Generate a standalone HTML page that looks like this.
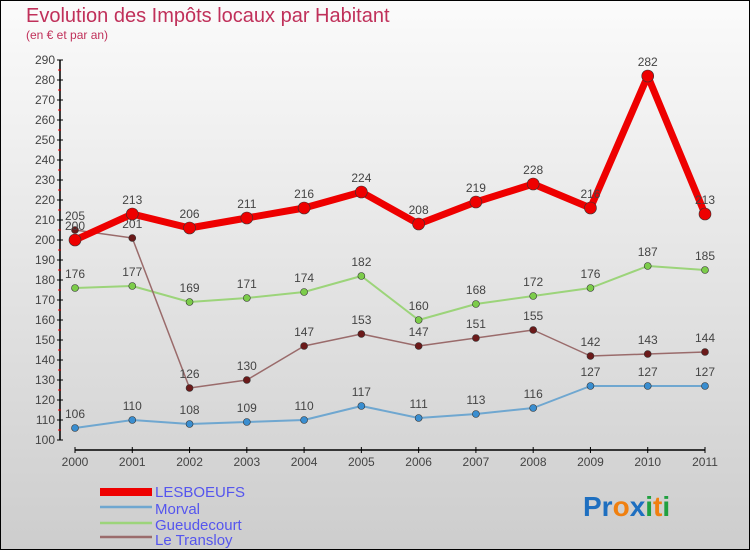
<!DOCTYPE html>
<html><head><meta charset="utf-8"><style>
body{margin:0}
#c{width:750px;height:550px;position:relative;font-family:"Liberation Sans",sans-serif}
svg text{font-family:"Liberation Sans",sans-serif}
</style></head><body>
<div id="c">
<svg id="s" width="750" height="550" xmlns="http://www.w3.org/2000/svg">
<defs><linearGradient id="bg" x1="0" y1="0" x2="0" y2="1"><stop offset="0" stop-color="#fbfbfb"/><stop offset="1" stop-color="#cdcdcd"/></linearGradient></defs>
<rect x="0.5" y="0.5" width="749" height="549" fill="url(#bg)" stroke="#000"/>
<text x="26" y="22" font-size="20" fill="#c0305a">Evolution des Impôts locaux par Habitant</text>
<text x="26" y="39" font-size="12" fill="#c0305a">(en € et par an)</text>
<g id="axes"></g><g id="series"></g>
<g>
<rect x="100" y="488" width="52" height="8" fill="#e00"/>
<text x="155" y="497" font-size="15" fill="#5555ee">LESBOEUFS</text>
<line x1="100" y1="507" x2="152" y2="507" stroke="#6fa7d0" stroke-width="2.5"/>
<text x="155" y="514" font-size="15" fill="#5555ee">Morval</text>
<line x1="100" y1="523" x2="152" y2="523" stroke="#9cd47a" stroke-width="2.5"/>
<text x="155" y="530" font-size="15" fill="#5555ee">Gueudecourt</text>
<line x1="100" y1="537" x2="152" y2="537" stroke="#9a6b6b" stroke-width="2.5"/>
<text x="155" y="545" font-size="15" fill="#5555ee">Le Transloy</text>
</g>
<text x="583" y="516" font-size="28" font-weight="bold"><tspan fill="#1e6fc0">Pr</tspan><tspan fill="#f08010">o</tspan><tspan fill="#1e6fc0">x</tspan><tspan fill="#20a040">i</tspan><tspan fill="#f08010">t</tspan><tspan fill="#20a040">i</tspan></text>
</svg></div>
<script>
const years=["2000","2001","2002","2003","2004","2005","2006","2007","2008","2009","2010","2011"];
const yTicks=[100,110,120,130,140,150,160,170,180,190,200,210,220,230,240,250,260,270,280,290];
const lesboeufs=[200,213,206,211,216,224,208,219,228,216,282,213];
const morval=[106,110,108,109,110,117,111,113,116,127,127,127];
const gueudecourt=[176,177,169,171,174,182,160,168,172,176,187,185];
const transloy=[205,201,126,130,147,153,147,151,155,142,143,144];
const NS="http://www.w3.org/2000/svg";
const X=i=>75+i*(630/11);
const Y=v=>440-(v-100)*2;
function mk(t,a,p){const e=document.createElementNS(NS,t);for(const k in a)e.setAttribute(k,a[k]);p.appendChild(e);return e;}
const ax=document.getElementById('axes');
let e=mk('line',{x1:60,y1:Y(290),x2:60,y2:440,stroke:'#000','stroke-width':1.5},ax);


e=mk('line',{x1:75,y1:450,x2:705,y2:450,stroke:'#000','stroke-width':1.5},ax);


yTicks.forEach(v=>{
 mk('line',{x1:57,y1:Y(v),x2:63,y2:Y(v),stroke:'#000'},ax);
 if(v<290)mk('line',{x1:58,y1:Y(v+5),x2:61,y2:Y(v+5),stroke:'#e00'},ax);
 const t=mk('text',{x:55,y:Y(v)+4,'font-size':12,fill:'#444','text-anchor':'end'},ax);t.textContent=v;
 
 
});
years.forEach((y,i)=>{
 mk('line',{x1:X(i),y1:447,x2:X(i),y2:453,stroke:'#000'},ax);
 const t=mk('text',{x:X(i),y:466,'font-size':12,fill:'#444','text-anchor':'middle'},ax);t.textContent=y;
 
 
});
const sg=document.getElementById('series');
function series(name,d,col,dot,w,r,fs){
 const g=mk('g',{},sg);
 
 
 mk('polyline',{points:d.map((v,i)=>X(i)+','+Y(v)).join(' '),fill:'none',stroke:col,'stroke-width':w,'stroke-linejoin':'round'},g);
 d.forEach((v,i)=>{
  const c=mk('circle',{cx:X(i),cy:Y(v),r:r,fill:dot,stroke:'#333','stroke-width':0.6},g);
  
  
  const t=mk('text',{x:X(i),y:Y(v)-10,'font-size':fs,fill:'#444','text-anchor':'middle'},g);t.textContent=v;
  
  
 });
}
series('morval',morval,'#6fa7d0','#3a8ed0',2,3.5,12);
series('gueudecourt',gueudecourt,'#9cd47a','#7ccc4a',2,3.5,12);
series('le-transloy',transloy,'#9a6b6b','#6b1a1a',1.5,3.5,12);
series('lesboeufs',lesboeufs,'#e00','#e00',7,6,12);
</script>
</body></html>
